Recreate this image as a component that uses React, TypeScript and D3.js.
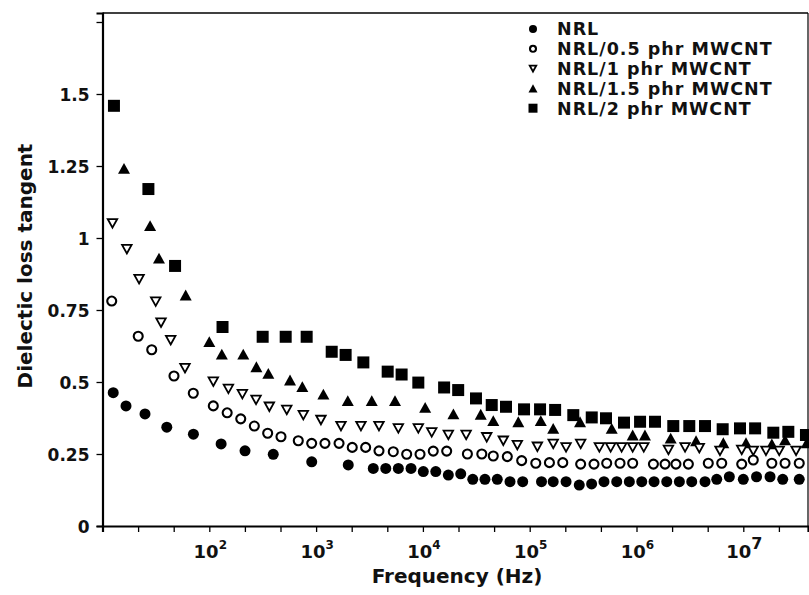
import React, { useEffect, useRef } from 'react';
import * as d3 from 'd3';

// NRL (filled circles)
const nrlFreq = [12.6, 16.6, 25, 40, 71, 129, 216, 397, 910, 2000, 3430, 4490, 5890, 7740, 10090, 13200, 17300,
  22600, 29300, 38100, 49700, 65400, 86000, 129000, 166000, 219000, 291000, 380000, 496000, 653000, 857000,
  1.12e6, 1.46e6, 1.92e6, 2.52e6, 3.29e6, 4.38e6, 5.64e6, 7.4e6, 1.0e7, 1.33e7, 1.78e7, 2.34e7, 3.34e7];
const nrlTan = [0.463, 0.417, 0.389, 0.343, 0.319, 0.285, 0.261, 0.249, 0.223, 0.212, 0.2, 0.2, 0.2, 0.2, 0.189, 0.189, 0.177,
  0.181, 0.162, 0.162, 0.162, 0.154, 0.154, 0.154, 0.154, 0.154, 0.142, 0.146, 0.154, 0.154, 0.154,
  0.154, 0.154, 0.154, 0.154, 0.154, 0.154, 0.162, 0.171, 0.162, 0.171, 0.171, 0.162, 0.162];

// NRL/0.5 phr MWCNT (open circles)
const p05Freq = [12.2, 21.6, 28.9, 46.7, 70.8, 109, 147, 197, 264, 352, 469, 681, 909, 1210, 1640, 2180, 2910, 3880,
  5280, 7050, 9400, 12500, 16700, 26100, 35600, 45600, 61700, 84100, 114000, 153000, 204000, 300000, 400000,
  526000, 701000, 921000, 1.44e6, 1.85e6, 2.34e6, 3.06e6, 4.7e6, 6.28e6, 9.66e6, 1.24e7, 1.85e7, 2.46e7, 3.34e7];
const p05Tan = [0.781, 0.659, 0.612, 0.521, 0.461, 0.417, 0.393, 0.372, 0.347, 0.322, 0.31, 0.296, 0.287, 0.287, 0.287, 0.273, 0.273, 0.261,
  0.258, 0.249, 0.249, 0.26, 0.26, 0.25, 0.25, 0.243, 0.241, 0.227, 0.218, 0.22, 0.22, 0.215, 0.215,
  0.218, 0.218, 0.218, 0.215, 0.215, 0.215, 0.215, 0.218, 0.218, 0.215, 0.229, 0.218, 0.218, 0.218];

// NRL/1 phr MWCNT (open down triangles)
const p1Freq = [12.4, 16.9, 22, 31.5, 35.3, 43.5, 59.2, 109, 151, 204, 274, 365, 531, 759, 1110, 1710, 2630, 3880,
  5890, 9060, 12100, 17300, 25400, 39600, 56600, 76600, 118000, 166000, 219000, 300000, 449000, 573000, 726000,
  921000, 1.17e6, 1.99e6, 2.85e6, 3.87e6, 6.05e6, 9.66e6, 1.24e7, 1.63e7, 2.17e7, 3.12e7];
const p1Tan = [1.051, 0.961, 0.857, 0.779, 0.706, 0.645, 0.548, 0.501, 0.476, 0.458, 0.438, 0.414, 0.403, 0.385, 0.368, 0.347, 0.347, 0.347,
  0.339, 0.339, 0.325, 0.316, 0.316, 0.308, 0.296, 0.281, 0.275, 0.285, 0.273, 0.285, 0.273, 0.273, 0.273,
  0.273, 0.273, 0.264, 0.273, 0.27, 0.261, 0.264, 0.261, 0.261, 0.261, 0.261];

// NRL/1.5 phr MWCNT (filled up triangles)
const p15Freq = [15.9, 27.9, 33.8, 60.1, 100, 131, 208, 276, 357, 570, 743, 1170, 1980, 3320, 5480, 10500, 19300,
  34800, 45600, 78200, 127000, 166000, 296000, 586000, 921000, 1.2e6, 2.09e6, 3.61e6, 6.5e6, 1.06e7, 1.85e7, 2.46e7, 3.93e7];
const p15Tan = [1.242, 1.043, 0.93, 0.802, 0.64, 0.597, 0.597, 0.553, 0.53, 0.507, 0.484, 0.458, 0.435, 0.435, 0.435, 0.412, 0.389,
  0.388, 0.366, 0.362, 0.366, 0.339, 0.362, 0.339, 0.316, 0.316, 0.305, 0.296, 0.289, 0.289, 0.285, 0.299, 0.289];

// NRL/2 phr MWCNT (filled squares)
const p2Freq = [12.8, 26.9, 47.8, 133, 316, 519, 816, 1400, 1890, 2770, 4680, 6320, 9060, 15800, 21400, 31400, 44100,
  60000, 88500, 125000, 173000, 256000, 381000, 518000, 764000, 1.08e6, 1.49e6, 2.21e6, 3.12e6, 4.38e6, 6.41e6,
  9.31e6, 1.29e7, 1.91e7, 2.64e7, 3.86e7];
const p2Tan = [1.459, 1.17, 0.903, 0.691, 0.657, 0.657, 0.657, 0.605, 0.594, 0.568, 0.536, 0.526, 0.498, 0.481, 0.472, 0.443, 0.42,
  0.414, 0.405, 0.405, 0.403, 0.385, 0.377, 0.374, 0.359, 0.362, 0.362, 0.347, 0.347, 0.347, 0.336,
  0.339, 0.339, 0.324, 0.327, 0.316];

const seriesNames = ['NRL', 'NRL/0.5 phr MWCNT', 'NRL/1 phr MWCNT', 'NRL/1.5 phr MWCNT', 'NRL/2 phr MWCNT'];
const yTicks = [0, 0.25, 0.5, 0.75, 1, 1.25, 1.5, 1.75];
const yTickLabels = ['0', '0.25', '0.5', '0.75', '1', '1.25', '1.5', ''];
const xLabelExps = [2, 3, 4, 5, 6, 7];

const FONT = '"DejaVu Sans", Verdana, sans-serif';

function Chart() {
  const ref = useRef<SVGSVGElement | null>(null);

  useEffect(() => {
    const svg = d3.select(ref.current);
    svg.selectAll('*').remove();

    const width = 809, height = 595;
    const left = 102.5, right = 808, top = 13, bottom = 526;

    const x = d3.scaleLog().domain([10, Math.pow(10, 1 + (right - left) / 106.8)]).range([left, right]);
    const y = d3.scaleLinear().domain([0, (bottom - top) / 288]).range([bottom, top]);

    svg.attr('width', width).attr('height', height);

    // frame: top and right
    svg.append('line').attr('x1', left).attr('x2', right).attr('y1', top).attr('y2', top)
      .attr('stroke', '#000').attr('stroke-width', 1.6);
    svg.append('line').attr('x1', right).attr('x2', right).attr('y1', top).attr('y2', bottom)
      .attr('stroke', '#000').attr('stroke-width', 1.2);

    // y axis
    const yAxis = svg.append('g').attr('transform', `translate(${left},0)`)
      .call(d3.axisLeft(y).tickValues(yTicks).tickSize(6).tickFormat((_, i) => yTickLabels[i]));
    yAxis.select('.domain').attr('stroke-width', 2.2);
    yAxis.selectAll('line').attr('stroke-width', 1.3);
    yAxis.selectAll('text').attr('font-family', FONT).attr('font-weight', 'bold').attr('font-size', 17)
      .attr('fill', '#111').attr('x', -13).attr('dy', '0.36em');

    // x axis, ticks every third of a decade
    const xTickVals = d3.range(0, 21).map((k) => Math.pow(10, 1 + k / 3));
    const xAxis = svg.append('g').attr('transform', `translate(0,${bottom})`)
      .call(d3.axisBottom(x).tickValues(xTickVals).tickSize(6).tickFormat(() => ''));
    xAxis.select('.domain').attr('stroke-width', 2.2);
    xAxis.selectAll('line').attr('stroke-width', 1.3);

    const xl = svg.append('g');
    xLabelExps.forEach((e) => {
      const t = xl.append('text').attr('x', x(Math.pow(10, e)) + 1).attr('y', 558)
        .attr('text-anchor', 'middle').attr('font-family', FONT).attr('font-weight', 'bold')
        .attr('font-size', 18).attr('fill', '#111');
      t.append('tspan').text('10');
      t.append('tspan').attr('dy', -9).attr('font-size', e === 7 ? 16 : 12).text(String(e));
    });

    // axis titles
    svg.append('text').attr('x', 457).attr('y', 583).attr('text-anchor', 'middle')
      .attr('font-family', FONT).attr('font-weight', 'bold').attr('font-size', 20).attr('fill', '#111')
      .text('Frequency (Hz)');
    svg.append('text').attr('transform', 'translate(32,266) rotate(-90)').attr('text-anchor', 'middle')
      .attr('font-family', FONT).attr('font-weight', 'bold').attr('font-size', 20).attr('fill', '#111')
      .text('Dielectic loss tangent');

    const tri = (s: number) => {
      const h = s * 0.9;
      return `M0,${-h / 2}L${s / 2},${h / 2}L${-s / 2},${h / 2}Z`;
    };
    const triDown = (s: number) => {
      const h = s * 0.9;
      return `M0,${h / 2}L${s / 2},${-h / 2}L${-s / 2},${-h / 2}Z`;
    };
    const drawers: Array<(g: any, s: number) => void> = [
      (g, s) => g.append('path').attr('d', d3.symbol(d3.symbolCircle, (s * s * Math.PI) / 4)()).attr('fill', '#000'),
      (g, s) => g.append('path').attr('d', d3.symbol(d3.symbolCircle, ((s - 2) * (s - 2) * Math.PI) / 4)())
        .attr('fill', '#fff').attr('stroke', '#000').attr('stroke-width', 2.1),
      (g, s) => g.append('path').attr('d', triDown(s - 1.5)).attr('fill', '#fff').attr('stroke', '#000')
        .attr('stroke-width', 1.8).attr('stroke-linejoin', 'miter'),
      (g, s) => g.append('path').attr('d', tri(s + 1)).attr('fill', '#000'),
      (g, s) => g.append('path').attr('d', d3.symbol(d3.symbolSquare, (s + 1) * (s + 1))()).attr('fill', '#000'),
    ];

    const data = [
      { f: nrlFreq, v: nrlTan },
      { f: p05Freq, v: p05Tan },
      { f: p1Freq, v: p1Tan },
      { f: p15Freq, v: p15Tan },
      { f: p2Freq, v: p2Tan },
    ];

    // draw in back-to-front order: squares first so others sit above
    const order = [4, 3, 2, 1, 0];
    order.forEach((si) => {
      const d = data[si];
      d.f.forEach((fv, i) => {
        const g = svg.append('g').attr('transform', `translate(${x(fv)},${y(d.v[i])})`);
        drawers[si](g, 11);
      });
    });

    // legend
    const lg = svg.append('g');
    seriesNames.forEach((name, i) => {
      const cy = 29 + i * 19.8;
      const g = lg.append('g').attr('transform', `translate(533,${cy})`);
      drawers[i](g, 8);
      lg.append('text').attr('x', 557).attr('y', cy).attr('dy', '0.36em')
        .attr('font-family', FONT).attr('font-weight', 'bold').attr('font-size', 17.5)
        .attr('letter-spacing', 1).attr('fill', '#111').text(name);
    });
  }, []);

  return <svg ref={ref} style={{ display: 'block', position: 'absolute', left: 0, top: 0 }}></svg>;
}

export default function App() {
  return <Chart />;
}
